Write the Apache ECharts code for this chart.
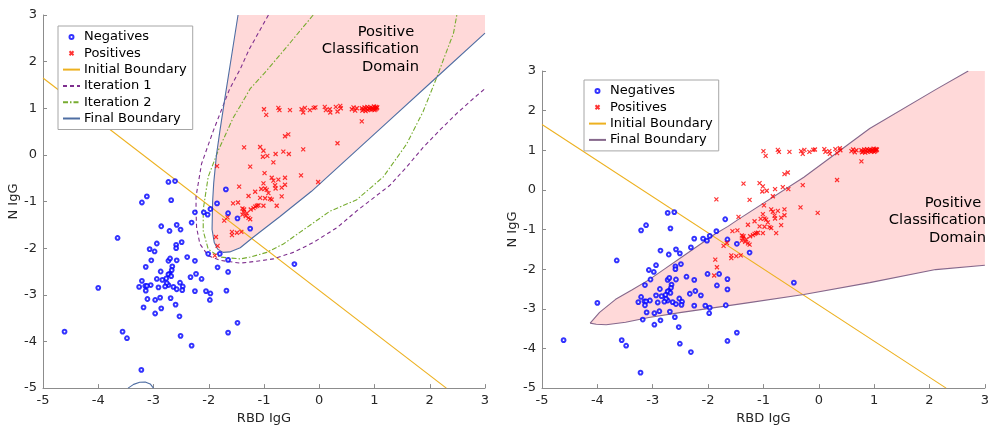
<!DOCTYPE html>
<html><head><meta charset="utf-8">
<script src="https://cdn.jsdelivr.net/npm/echarts@6/dist/echarts.min.js"></script>
<style>html,body{margin:0;padding:0;background:#fff}#c{width:992px;height:430px}</style>
</head><body><div id="c"></div>
<script>
// ---- data ----
const negatives = [
[-2.73,-0.58],[-2.61,-0.56],[-3.12,-0.89],[-3.21,-1.02],[-2.68,-0.97],[-3.65,-1.78],[-2.86,-1.53],[-2.58,-1.50],[-2.71,-1.63],[-2.51,-1.60],
[-2.31,-1.45],[-2.25,-1.23],[-2.09,-1.23],[-2.02,-1.28],[-1.97,-1.16],[-2.94,-1.90],[-3.07,-2.02],[-2.98,-2.07],[-2.59,-1.93],[-2.49,-1.87],
[-2.59,-2.00],[-2.01,-2.12],[-2.39,-2.19],[-2.25,-2.27],[-2.73,-2.27],[-2.58,-2.26],[-2.70,-2.22],[-3.04,-2.26],[-3.14,-2.40],[-2.66,-2.39],
[-2.67,-2.47],[-2.71,-2.55],[-2.87,-2.50],[-2.73,-2.56],[-2.68,-2.60],[-2.77,-2.65],[-2.94,-2.66],[-2.84,-2.68],[-3.21,-2.70],[-3.05,-2.79],
[-3.15,-2.81],[-3.26,-2.83],[-3.12,-2.81],[-2.91,-2.84],[-2.73,-2.79],[-2.76,-2.75],[-2.79,-2.82],[-2.64,-2.83],[-2.58,-2.88],[-2.52,-2.74],
[-2.47,-2.82],[-2.48,-2.90],[-2.33,-2.62],[-2.23,-2.55],[-2.13,-2.66],[-2.25,-2.92],[-2.05,-2.92],[-1.97,-2.97],[-1.98,-3.11],[-3.14,-2.91],
[-3.11,-3.09],[-2.97,-3.11],[-2.88,-3.06],[-2.69,-3.07],[-2.60,-3.21],[-3.18,-3.27],[-2.86,-3.29],[-2.97,-3.40],[-2.53,-3.46],[-3.56,-3.79],
[-3.48,-3.93],[-2.51,-3.88],[-4.61,-3.79],[-4.00,-2.85],[-3.22,-4.61],[-2.31,-4.09],[-1.48,-3.60],[-1.65,-3.81],[-1.68,-2.91],[-1.65,-2.51],
[-1.65,-2.25],[-1.84,-2.41],[-1.80,-2.12],[-1.48,-1.36],[-1.65,-1.25],[-1.69,-0.74],[-1.85,-1.04],[-1.25,-1.58],[-0.45,-2.34]
];
const positives = [
// upper band
[-1.00,0.98],[-0.96,0.86],[-0.74,1.01],[-0.72,0.96],[-0.53,0.96],[-0.32,0.98],[-0.29,0.91],[-0.26,1.01],[-0.17,0.96],[-0.10,1.01],
[-0.07,1.02],[0.10,1.03],[0.12,0.96],[0.19,0.98],[0.20,0.91],[0.30,1.03],[0.33,0.93],[0.38,1.05],[0.39,1.00],[0.59,0.98],
[0.62,1.02],[0.65,0.95],[0.68,1.00],[0.77,1.00],[0.80,0.97],[0.82,1.02],[0.85,0.99],[0.87,1.03],[0.88,0.96],[0.90,1.00],
[0.92,0.98],[0.93,1.02],[0.95,0.97],[0.96,1.01],[0.98,0.99],[0.99,1.04],[1.00,0.96],[1.01,1.01],[1.02,0.98],[1.03,1.03],
[1.04,1.00],[1.05,1.02],[0.78,0.95],[0.84,0.94],[0.77,0.72],[0.33,0.25],[-0.62,0.40],[-0.56,0.44],[-0.29,0.12],[-0.02,-0.58],
[-0.33,-0.44],[-0.62,-0.64],
// lower cluster
[-1.36,0.16],[-1.07,0.17],[-1.01,0.09],[-1.02,-0.04],[-0.94,-0.02],[-0.79,0.02],[-0.65,0.07],[-0.55,0.02],[-0.83,-0.16],[-1.25,-0.25],
[-1.85,-0.24],[-0.99,-0.39],[-0.86,-0.49],[-0.83,-0.55],[-0.74,-0.53],[-0.62,-0.49],[-0.80,-0.65],[-0.68,-0.70],[-0.79,-0.72],[-1.01,-0.61],
[-0.98,-0.72],[-1.05,-0.73],[-0.95,-0.75],[-1.16,-0.79],[-0.92,-0.82],[-1.07,-0.92],[-0.98,-0.93],[-0.89,-0.94],[-0.86,-0.96],[-0.68,-0.89],
[-0.77,-1.09],[-1.45,-0.68],[-1.28,-0.88],[-1.47,-1.02],[-1.56,-1.04],[-1.39,-1.15],[-1.36,-1.17],[-1.37,-1.22],[-1.39,-1.28],[-1.31,-1.25],
[-1.24,-1.17],[-1.19,-1.14],[-1.16,-1.11],[-1.13,-1.09],[-1.10,-1.08],[-1.01,-1.09],[-1.28,-1.35],[-1.25,-1.38],[-1.33,-1.31],[-1.72,-1.41],
[-1.66,-1.34],[-1.58,-1.65],[-1.58,-1.72],[-1.49,-1.67],[-1.41,-1.65],[-1.87,-1.76],[-1.84,-1.95],[-1.89,-2.16]
];
const initialBoundary = [[-5,1.65],[2.3,-5]];
const iteration1 = [[-0.92,3.0],[-1.27,2.26],[-1.43,1.84],[-1.62,1.42],[-1.92,0.51],[-2.13,-0.19],[-2.23,-0.89],[-2.23,-1.21],[-2.22,-1.56],[-2.16,-1.91],
 [-2.01,-2.16],[-1.80,-2.26],[-1.43,-2.32],[-1.13,-2.28],[-0.83,-2.23],[-0.47,-2.09],[-0.11,-1.88],[0.32,-1.56],[0.70,-1.18],[1.28,-0.65],
 [1.58,-0.26],[1.88,0.16],[2.19,0.54],[2.49,0.89],[2.79,1.21],[3.0,1.42]];
const iteration2 = [[-0.11,3.0],[-0.53,2.40],[-0.95,1.81],[-1.25,1.42],[-1.43,1.05],[-1.56,0.79],[-1.83,0.09],[-2.01,-0.47],[-2.10,-1.17],[-2.10,-1.63],
 [-2.01,-2.02],[-1.80,-2.19],[-1.43,-2.23],[-1.25,-2.19],[-0.95,-2.09],[-0.65,-1.91],[-0.23,-1.56],[0.19,-1.21],[0.68,-0.96],[1.16,-0.47],
 [1.58,0.23],[1.88,0.93],[2.13,1.67],[2.25,2.05],[2.43,2.61],[2.49,3.0]];
const finalLeftUpper = [[-1.47,3.0],[-1.59,2.1],[-1.71,1.2],[-1.80,0.5],[-1.86,0.0],[-1.91,-0.6],[-1.93,-1.0],[-1.94,-1.6],[-1.90,-1.88],[-1.84,-2.02],
 [-1.74,-2.09],[-1.62,-2.08],[-1.43,-1.99],[-1.19,-1.76],[-0.95,-1.54],[-0.71,-1.32],[-0.53,-1.15],[-0.14,-0.78],[1.25,0.72],[2.13,1.67],[3.0,2.61]];
const finalLeftLower = [[-3.46,-5.0],[-3.36,-4.92],[-3.25,-4.875],[-3.15,-4.87],[-3.06,-4.91],[-3.0,-5.0]];
const leftDomainCorners = [[3.0,3.0]];
const finalRightUpper = [[-4.13,-3.36],[-3.96,-3.09],[-3.67,-2.76],[-3.37,-2.52],[-3.07,-2.27],[-2.77,-1.98],[-2.48,-1.70],[-2.18,-1.41],[-1.88,-1.12],[-1.64,-0.92],
 [-1.46,-0.75],[-0.27,0.32],[0.92,1.55],[2.11,2.53],[2.70,3.0]];
const finalRightLower = [[-4.13,-3.36],[-4.02,-3.39],[-3.84,-3.40],[-3.49,-3.34],[-3.07,-3.22],[-2.48,-3.09],[-1.88,-2.97],[-1.29,-2.85],[-0.27,-2.64],
 [0.92,-2.34],[2.11,-2.01],[3.0,-1.90]];
const rightDomainCorners = [[3.0,3.0]];

// ---- chart ----
const FONT = '"DejaVu Sans", sans-serif';
const PINK = '#ffd9d9';
function axis(gi, name, isX) {
  return {
    type: 'value', gridIndex: gi, min: -5, max: 3, interval: 1,
    name: name, nameLocation: 'middle', nameGap: isX ? 21 : 20,
    nameTextStyle: {fontFamily: FONT, fontSize: 13, color: '#262626'},
    axisLine: {onZero: false, lineStyle: {color: '#8c8c8c', width: 1}},
    axisTick: {inside: true, length: 4, lineStyle: {color: '#8c8c8c'}},
    axisLabel: {fontFamily: FONT, fontSize: 13, color: '#262626', margin: 6},
    splitLine: {show: false}
  };
}
function polygonSeries(xi, pts) {
  return {
    type: 'custom', xAxisIndex: xi, yAxisIndex: xi, silent: true, z: 1,
    data: [[0, 0]],
    renderItem: function (params, api) {
      return {type: 'polygon', shape: {points: pts.map(p => api.coord(p))}, style: {fill: PINK}};
    }
  };
}
function lineSeries(xi, name, data, color, type, z) {
  return {type: 'line', name: name, xAxisIndex: xi, yAxisIndex: xi, data: data, symbol: 'none',
    showSymbol: false, lineStyle: {color: color, width: 1.1, type: type}, itemStyle: {color: color},
    z: z || 3, animation: false, silent: true};
}
function scatterSeries(xi, name, data, kind) {
  if (kind === 'neg') {
    return {type: 'scatter', name: name, xAxisIndex: xi, yAxisIndex: xi, data: data, symbol: 'emptyCircle',
      symbolSize: 3.8, itemStyle: {color: '#0000ff', borderColor: '#0000ff', borderWidth: 1.1}, z: 5, silent: true};
  }
  return {type: 'scatter', name: name, xAxisIndex: xi, yAxisIndex: xi, data: data,
    symbol: 'path://M0,0L10,10M10,0L0,10', symbolSize: 4,
    itemStyle: {color: 'rgba(0,0,0,0)', borderColor: '#ff0000', borderWidth: 1.2}, z: 5, silent: true};
}
const leftPoly = finalLeftUpper.concat(leftDomainCorners);
const rightPoly = finalRightUpper.concat(rightDomainCorners, finalRightLower.slice().reverse());

const legendBase = {
  orient: 'vertical', itemWidth: 17, itemHeight: 4, itemGap: 0.3,
  padding: [3, 6, 3, 4], borderColor: '#a6a6a6', borderWidth: 1, backgroundColor: '#fff',
  textStyle: {fontFamily: FONT, fontSize: 13, color: '#000', lineHeight: 16, padding: [0, 0, 0, -1]},
  formatter: n => n.trim(), selectedMode: false
};
const lineItem = n => ({name: n, itemStyle: {opacity: 0}});

const option = {
  animation: false,
  grid: [
    {left: 43, top: 15, width: 442, height: 380},
    {left: 542, top: 71, width: 448, height: 325}
  ],
  xAxis: [axis(0, 'RBD IgG', true), axis(1, 'RBD IgG', true)],
  yAxis: [axis(0, 'N IgG', false), axis(1, 'N IgG', false)],
  legend: [
    Object.assign({}, legendBase, {left: 58, top: 26,
      data: ['Negatives', 'Positives', lineItem('Initial Boundary'), lineItem('Iteration 1'), lineItem('Iteration 2'), lineItem('Final Boundary')]}),
    Object.assign({}, legendBase, {left: 584, top: 80,
      data: ['Negatives', 'Positives', lineItem('Initial Boundary'), lineItem('Final Boundary ')]})
  ],
  graphic: [
    {type: 'text', x: 419, y: 23, z: 10, style: {text: 'Positive \nClassification\nDomain', align: 'right', textAlign: 'right',
      verticalAlign: 'top', font: '14.7px ' + FONT, fill: '#000', lineHeight: 17.5}},
    {type: 'text', x: 986, y: 194, z: 10, style: {text: 'Positive \nClassification\nDomain', align: 'right', textAlign: 'right',
      verticalAlign: 'top', font: '14.7px ' + FONT, fill: '#000', lineHeight: 17.5}}
  ],
  series: [
    polygonSeries(0, leftPoly),
    lineSeries(0, 'Initial Boundary', initialBoundary, '#EDB120', 'solid'),
    lineSeries(0, 'Iteration 1', iteration1, '#7E2F8E', [4, 3]),
    lineSeries(0, 'Iteration 2', iteration2, '#77AC30', [5, 2, 1.5, 2]),
    lineSeries(0, 'Final Boundary', finalLeftUpper, '#4f6ea3', 'solid'),
    lineSeries(0, 'Final Boundary', finalLeftLower, '#4f6ea3', 'solid'),
    scatterSeries(0, 'Negatives', negatives, 'neg'),
    scatterSeries(0, 'Positives', positives, 'pos'),
    polygonSeries(1, rightPoly),
    lineSeries(1, 'Initial Boundary', initialBoundary, '#EDB120', 'solid'),
    lineSeries(1, 'Final Boundary ', finalRightUpper, '#86688c', 'solid'),
    lineSeries(1, 'Final Boundary ', finalRightLower, '#86688c', 'solid'),
    scatterSeries(1, 'Negatives', negatives, 'neg'),
    scatterSeries(1, 'Positives', positives, 'pos')
  ]
};
const chart = echarts.init(document.getElementById('c'), null, {renderer: 'canvas'});
chart.setOption(option);
</script>
</body></html>
